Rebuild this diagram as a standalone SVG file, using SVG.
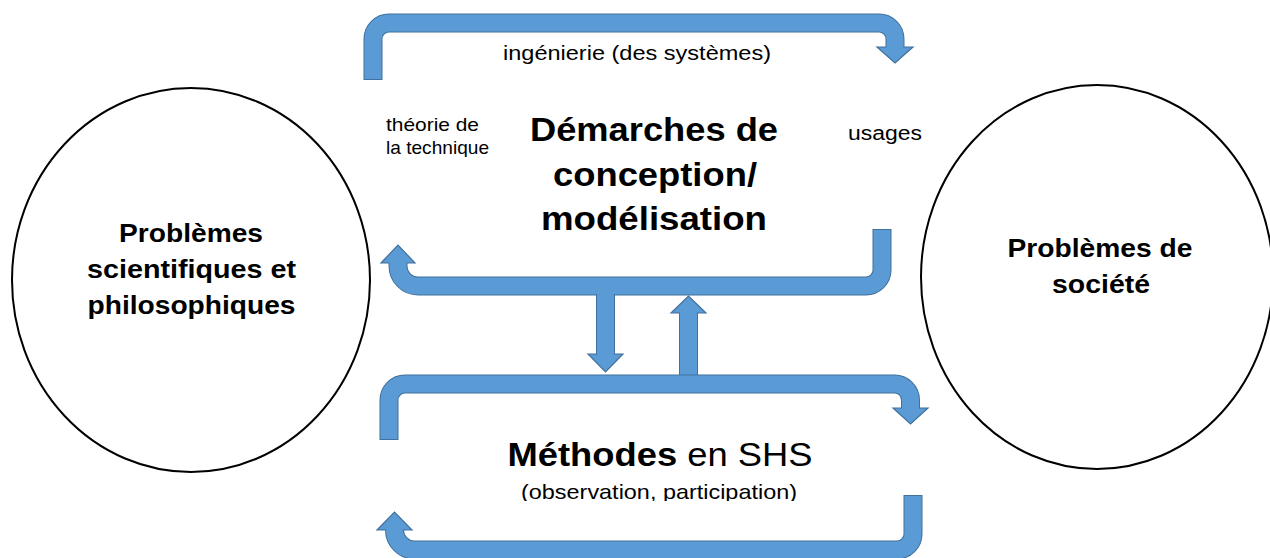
<svg xmlns="http://www.w3.org/2000/svg" width="1270" height="558" viewBox="0 0 1270 558">
<style>
.edge{fill:none;stroke:#41719C;stroke-width:19}
.body{fill:none;stroke:#5B9BD5;stroke-width:17}
.head{fill:#5B9BD5;stroke:#41719C;stroke-width:1.2;stroke-linejoin:miter}
.circ{fill:#fff;stroke:#000;stroke-width:2}
text{font-family:"Liberation Sans",Arial,sans-serif;fill:#000;text-anchor:middle}
.b{font-weight:bold}
</style>
<defs>
<clipPath id="clipTech"><rect x="370" y="100" width="140" height="57"/></clipPath>
<clipPath id="clipObs"><rect x="450" y="470" width="400" height="31"/></clipPath>
</defs>
<rect width="1270" height="558" fill="#fff"/>
<g id="node-left">
<ellipse class="circ" cx="191" cy="280" rx="179" ry="192"/>
<text class="b" font-size="26" x="191" y="242" textLength="144" lengthAdjust="spacingAndGlyphs">Problèmes</text>
<text class="b" font-size="26" x="191.5" y="278" textLength="209" lengthAdjust="spacingAndGlyphs">scientifiques et</text>
<text class="b" font-size="26" x="191.5" y="314" textLength="208" lengthAdjust="spacingAndGlyphs">philosophiques</text>
</g>
<g id="node-right">
<ellipse class="circ" cx="1097" cy="277" rx="176" ry="192"/>
<text class="b" font-size="26" x="1100" y="257" textLength="185" lengthAdjust="spacingAndGlyphs">Problèmes de</text>
<text class="b" font-size="26" x="1101" y="293" textLength="98" lengthAdjust="spacingAndGlyphs">société</text>
</g>
<g id="node-demarches">
<text class="b" font-size="33" x="654" y="141" textLength="248" lengthAdjust="spacingAndGlyphs">Démarches de</text>
<text class="b" font-size="33" x="655" y="186" textLength="204" lengthAdjust="spacingAndGlyphs">conception/</text>
<text class="b" font-size="33" x="654" y="230" textLength="226" lengthAdjust="spacingAndGlyphs">modélisation</text>
</g>
<g id="node-methodes">
<text font-size="33" x="660" y="466" textLength="305" lengthAdjust="spacingAndGlyphs"><tspan font-weight="bold">Méthodes</tspan> en SHS</text>
<text font-size="21" x="659" y="499" textLength="276" lengthAdjust="spacingAndGlyphs" clip-path="url(#clipObs)">(observation, participation)</text>
</g>
<g id="connectors">
<g id="conn-ingenierie">
<path class="edge" d="M373,80 V39 A16,16 0 0 1 389,23 H879 A16,16 0 0 1 895,39 V47"/>
<polygon class="head" points="877,47 913,47 895,63"/>
<path class="body" d="M373,79 V39 A16,16 0 0 1 389,23 H879 A16,16 0 0 1 895,39 V48"/>
</g>
<g id="conn-theorie">
<path class="edge" d="M882,229 V270 A16,16 0 0 1 866,286 H418 A20,20 0 0 1 398,266 V263"/>
<polygon class="head" points="381,263 415,263 398,245"/>
<path class="body" d="M882,230 V270 A16,16 0 0 1 866,286 H418 A20,20 0 0 1 398,266 V262"/>
</g>
<g id="conn-down">
<path class="edge" d="M605.5,294 V354"/>
<polygon class="head" points="588,354 623,354 605.5,372"/>
<path class="body" d="M605.5,293 V355"/>
</g>
<g id="conn-up">
<path class="edge" d="M688.5,376 V313"/>
<polygon class="head" points="671,313 706,313 688.5,296"/>
<path class="body" d="M688.5,377 V312"/>
</g>
<g id="conn-usages">
<path class="edge" d="M389,440 V400 A16,16 0 0 1 405,384 H894 A16,16 0 0 1 910.5,400 V408"/>
<polygon class="head" points="893,408 928,408 910.5,424"/>
<path class="body" d="M389,439 V400 A16,16 0 0 1 405,384 H894 A16,16 0 0 1 910.5,400 V409"/>
</g>
<g id="conn-bottom">
<path class="edge" d="M913,495 V534 A16,16 0 0 1 897,550 H414 A20,20 0 0 1 394.5,530"/>
<polygon class="head" points="377,530 412,530 394.5,512"/>
<path class="body" d="M913,496 V534 A16,16 0 0 1 897,550 H414 A20,20 0 0 1 394.5,530 V529"/>
</g>
</g>
<g id="labels">
<text font-size="21" x="637" y="60" textLength="268" lengthAdjust="spacingAndGlyphs">ingénierie (des systèmes)</text>
<text font-size="19" x="432.5" y="131" textLength="93" lengthAdjust="spacingAndGlyphs">théorie de</text>
<text font-size="19" x="437.5" y="154" textLength="103" lengthAdjust="spacingAndGlyphs" clip-path="url(#clipTech)">la technique</text>
<text font-size="20" x="885" y="140" textLength="74" lengthAdjust="spacingAndGlyphs">usages</text>
</g>
</svg>
